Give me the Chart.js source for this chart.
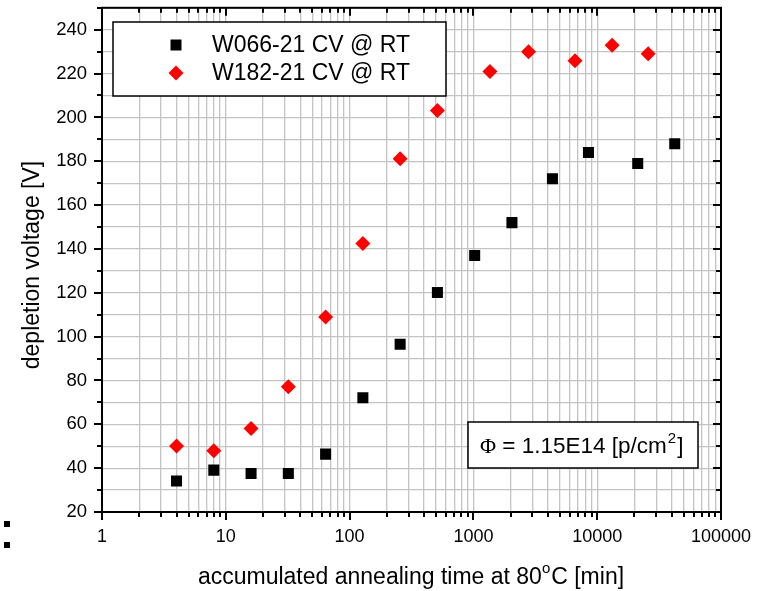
<!DOCTYPE html>
<html>
<head>
<meta charset="utf-8">
<script src="https://cdn.jsdelivr.net/npm/chart.js@4/dist/chart.umd.min.js"></script>
<style>
body{margin:0;background:#fff;}
canvas{display:block;}
</style>
</head>
<body>
<canvas id="myChart" width="769" height="591"></canvas>
<script>
// data
var xW066 = [4, 8, 16, 32, 64, 128, 256, 512, 1024, 2048, 4350, 8500, 21250, 42300];
var yW066 = [34.1, 39.1, 37.6, 37.6, 46.4, 72.1, 96.5, 120.1, 137, 152, 172, 184, 179, 188];
var xW182 = [4, 8, 16, 32, 64, 128, 256, 512, 1360, 2790, 6620, 13200, 25800];
var yW182 = [50.1, 47.9, 58.1, 77.1, 109, 142.5, 181.1, 203.1, 220.9, 229.9, 225.9, 232.9, 229];

var seriesNames = ['W066-21 CV @ RT', 'W182-21 CV @ RT'];
var xTickLabels = ['1', '10', '100', '1000', '10000', '100000'];
var yTickLabels = ['20', '40', '60', '80', '100', '120', '140', '160', '180', '200', '220', '240'];

var xTitle = ['accumulated annealing time at 80', 'o', 'C [min]'];
var yTitle = 'depletion voltage [V]';
var noteText = ['\u03A6', ' = 1.15E14 [p/cm', '2', ']'];

var FONT = '"Liberation Sans", Arial, sans-serif';

function toPoints(xs, ys){
	var pts = [];
	for(var i = 0; i < xs.length; i++){
		pts.push({x: xs[i], y: ys[i]});
	}
	return pts;
}

function isDecade(v){
	return xTickLabels.indexOf(String(v)) >= 0;
}

//边框、刻度、图例、标注、坐标轴标题
var decoPlugin = {
	id: 'deco',
	afterDatasetsDraw: function(chart){
		var ctx = chart.ctx;
		var a = chart.chartArea;
		var xs = chart.scales.x, ys = chart.scales.y;
		ctx.save();

		// ticks on all four sides
		ctx.strokeStyle = '#000';
		ctx.lineWidth = 2;
		ctx.beginPath();
		xs.ticks.forEach(function(t){
			var px = Math.round(xs.getPixelForValue(t.value));
			var len = isDecade(t.value) ? 8 : 5;
			ctx.moveTo(px, a.bottom); ctx.lineTo(px, a.bottom + len);
			ctx.moveTo(px, a.top); ctx.lineTo(px, a.top + len);
		});
		ys.ticks.forEach(function(t){
			var py = Math.round(ys.getPixelForValue(t.value));
			var len = (t.value % 20 === 0) ? 8 : 5;
			ctx.moveTo(a.left, py); ctx.lineTo(a.left - len, py);
			ctx.moveTo(a.right, py); ctx.lineTo(a.right - len, py);
		});
		ctx.stroke();
		ctx.strokeRect(a.left, a.top, a.right - a.left, a.bottom - a.top);

		// legend
		ctx.fillStyle = '#fff';
		ctx.fillRect(113, 22, 333, 74);
		ctx.lineWidth = 1.5;
		ctx.strokeRect(113, 22, 333, 74);
		var ds = chart.data.datasets;
		ctx.font = '23px ' + FONT;
		ctx.textAlign = 'left';
		ctx.textBaseline = 'middle';
		var ly = [45, 73];
		for(var i = 0; i < ds.length; i++){
			ctx.fillStyle = ds[i].backgroundColor;
			if(ds[i].pointStyle == 'rect'){
				ctx.fillRect(176 - 5.5, ly[i] - 5.5, 11, 11);
			}else{
				ctx.beginPath();
				ctx.moveTo(176, ly[i] - 7.5);
				ctx.lineTo(183.5, ly[i]);
				ctx.lineTo(176, ly[i] + 7.5);
				ctx.lineTo(168.5, ly[i]);
				ctx.closePath();
				ctx.fill();
			}
			ctx.fillStyle = '#000';
			ctx.fillText(ds[i].label, 212, ly[i] + 1);
		}

		// fluence note
		ctx.fillStyle = '#fff';
		ctx.fillRect(468, 422, 230, 46);
		ctx.lineWidth = 1.5;
		ctx.strokeRect(468, 422, 230, 46);
		ctx.fillStyle = '#000';
		ctx.textBaseline = 'alphabetic';
		var nx = 480, nb = 453;
		ctx.font = '22px "Liberation Serif", serif';
		ctx.fillText(noteText[0], nx, nb);
		nx += ctx.measureText(noteText[0]).width;
		ctx.font = '22.5px ' + FONT;
		ctx.fillText(noteText[1], nx, nb);
		nx += ctx.measureText(noteText[1]).width;
		ctx.font = '15px ' + FONT;
		ctx.fillText(noteText[2], nx + 1, nb - 10);
		nx += ctx.measureText(noteText[2]).width + 2;
		ctx.font = '22.5px ' + FONT;
		ctx.fillText(noteText[3], nx, nb);

		// x title
		ctx.font = '23px ' + FONT;
		var w0 = ctx.measureText(xTitle[0]).width;
		var w2 = ctx.measureText(xTitle[2]).width;
		ctx.font = '15px ' + FONT;
		var w1 = ctx.measureText(xTitle[1]).width;
		var tx = 411 - (w0 + w1 + w2 + 1) / 2, tb = 584;
		ctx.font = '23px ' + FONT;
		ctx.fillText(xTitle[0], tx, tb);
		ctx.font = '15px ' + FONT;
		ctx.fillText(xTitle[1], tx + w0, tb - 11);
		ctx.font = '23px ' + FONT;
		ctx.fillText(xTitle[2], tx + w0 + w1 + 1, tb);

		// y title
		ctx.translate(33, 265);
		ctx.rotate(-Math.PI / 2);
		ctx.textAlign = 'center';
		ctx.textBaseline = 'middle';
		ctx.fillText(yTitle, 0, 0);
		ctx.setTransform(1, 0, 0, 1, 0, 0);

		// two stray dots at the left edge of the original
		ctx.fillRect(4, 521, 6, 6);
		ctx.fillRect(4, 542, 6, 6);
		ctx.restore();
	}
};

var myChart = new Chart(document.getElementById('myChart'), {
	type: 'scatter',
	data: {
		datasets: [
			{
				label: seriesNames[0],
				data: toPoints(xW066, yW066),
				pointStyle: 'rect',
				pointRadius: 7.8,
				pointHoverRadius: 7.8,
				backgroundColor: '#000000',
				borderColor: '#000000',
				borderWidth: 0
			},
			{
				label: seriesNames[1],
				data: toPoints(xW182, yW182),
				pointStyle: 'rectRot',
				pointRadius: 7.5,
				pointHoverRadius: 7.5,
				backgroundColor: '#ff0000',
				borderColor: '#ff0000',
				borderWidth: 0
			}
		]
	},
	options: {
		responsive: false,
		animation: false,
		events: [],
		layout: {
			padding: {left: 0, right: 48, top: 7, bottom: 0}
		},
		plugins: {
			legend: {display: false},
			tooltip: {enabled: false}
		},
		scales: {
			x: {
				type: 'logarithmic',
				min: 1,
				max: 100000,
				afterBuildTicks: function(scale){
					var ticks = [];
					for(var d = 0; d < xTickLabels.length; d++){
						var base = Number(xTickLabels[d]);
						for(var m = 1; m <= 9; m++){
							if(base * m <= 100000) ticks.push({value: base * m});
						}
					}
					scale.ticks = ticks;
				},
				afterFit: function(scale){
					scale.height = 79;
					scale.paddingLeft = 0; scale.paddingRight = 0;
				},
				grid: {color: '#c4c4c4', lineWidth: 1.3, drawTicks: false},
				border: {display: false},
				ticks: {
					autoSkip: false,
					maxRotation: 0,
					padding: 14,
					color: '#000',
					font: {family: FONT, size: 18},
					callback: function(value){
						return isDecade(value) ? String(value) : '';
					}
				}
			},
			y: {
				min: 20,
				max: 250,
				afterFit: function(scale){
					scale.width = 102;
					scale.paddingTop = 0; scale.paddingBottom = 0;
				},
				grid: {color: '#c4c4c4', lineWidth: 1.3, drawTicks: false},
				border: {display: false},
				ticks: {
					stepSize: 10,
					autoSkip: false,
					padding: 15,
					color: '#000',
					font: {family: FONT, size: 18.5},
					callback: function(value){
						return yTickLabels.indexOf(String(value)) >= 0 ? String(value) : '';
					}
				}
			}
		}
	},
	plugins: [decoPlugin]
});
</script>
</body>
</html>
